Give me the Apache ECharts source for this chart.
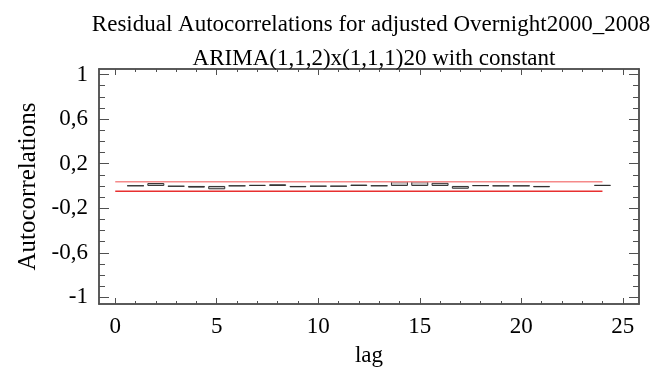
<!DOCTYPE html>
<html>
<head>
<meta charset="utf-8">
<script src="https://cdn.jsdelivr.net/npm/echarts@6/dist/echarts.min.js"></script>
<style>
  html, body { margin: 0; padding: 0; background: #fff; }
  #chart { width: 664px; height: 372px; }
</style>
</head>
<body>
<div id="chart"></div>
<script>
// residual autocorrelations by lag
const lags = [1, 2, 3, 4, 5, 6, 7, 8, 9, 10, 11, 12, 13, 14, 15, 16, 17, 18, 19, 20, 21, 22, 23, 24];
const acf = [0.003, 0.026, -0.005, -0.015, -0.03, 0.002, 0.01, 0.015, -0.012, -0.004, -0.004, 0.012,
             0.003, 0.042, 0.042, 0.028, -0.025, 0.006, 0.002, 0.002, -0.012, null, null, 0.01];
// probability limits
const limitLags = [0, 24];
const upperLimit = 0.038;
const lowerLimit = -0.048;
// ticks
const xLabels = [0, 5, 10, 15, 20, 25];
const xMinor = [0, 1, 2, 3, 4, 5, 6, 7, 8, 9, 10, 11, 12, 13, 14, 15, 16, 17, 18, 19, 20, 21, 22, 23, 24, 25];
const yLabels = [-1, -0.6, -0.2, 0.2, 0.6, 1];
const yMinor = [-1, -0.9, -0.8, -0.7, -0.6, -0.5, -0.4, -0.3, -0.2, -0.1, 0, 0.1, 0.2, 0.3, 0.4, 0.5, 0.6, 0.7, 0.8, 0.9, 1];

const font = 'Liberation Serif';
const axisColor = '#505050';

function xAxis(pos, ticks, len, labels) {
    return {
        type: 'value', position: pos, min: -0.8, max: 25.8,
        axisLine: { show: true, onZero: false, lineStyle: { color: axisColor, width: 1.5 } },
        axisTick: { show: true, inside: true, length: len, customValues: ticks, lineStyle: { color: axisColor } },
        axisLabel: labels ? { show: true, customValues: labels, margin: 11, color: '#000', fontFamily: font, fontSize: 23 } : { show: false },
        splitLine: { show: false },
        name: labels ? 'lag' : '', nameLocation: 'middle', nameGap: 40,
        nameTextStyle: { color: '#000', fontFamily: font, fontSize: 23 }
    };
}
function yAxis(pos, ticks, len, labels) {
    return {
        type: 'value', position: pos, min: -1.06, max: 1.05,
        axisLine: { show: true, onZero: false, lineStyle: { color: axisColor, width: 1.5 } },
        axisTick: { show: true, inside: true, length: len, customValues: ticks, lineStyle: { color: axisColor } },
        axisLabel: labels ? {
            show: true, customValues: labels, margin: 11, color: '#000', fontFamily: font, fontSize: 23,
            formatter: v => String(Math.round(v * 10) / 10).replace('.', ',')
        } : { show: false },
        splitLine: { show: false },
        name: labels ? 'Autocorrelations' : '', nameLocation: 'middle', nameGap: 58, nameRotate: 90,
        nameTextStyle: { color: '#000', fontFamily: font, fontSize: 25 }
    };
}

let myChart = echarts.init(document.getElementById('chart'));
myChart.setOption({
    animation: false,
    title: [
        { text: 'Residual Autocorrelations for adjusted Overnight2000_2008', left: 366, top: 8, textAlign: 'center',
          textStyle: { fontFamily: font, fontSize: 23, fontWeight: 'normal', color: '#000' } },
        { text: 'ARIMA(1,1,2)x(1,1,1)20 with constant', left: 369, top: 42, textAlign: 'center',
          textStyle: { fontFamily: font, fontSize: 23, fontWeight: 'normal', color: '#000' } }
    ],
    grid: { left: 99, right: 25, top: 69, bottom: 68 },
    xAxis: [
        xAxis('bottom', xLabels, 6, xLabels),
        xAxis('bottom', xMinor, 3, null),
        xAxis('top', xLabels, 6, null),
        xAxis('top', xMinor, 3, null)
    ],
    yAxis: [
        yAxis('left', yLabels, 10, yLabels),
        yAxis('left', yMinor, 6, null),
        yAxis('right', yLabels, 10, null),
        yAxis('right', yMinor, 6, null)
    ],
    series: [
        {
            type: 'bar', barWidth: 17,
            data: lags.map((l, i) => [l, acf[i]]),
            itemStyle: { color: '#c4c4c4', borderColor: '#303030', borderWidth: 1 }
        },
        {
            type: 'line', symbol: 'none', silent: true,
            data: limitLags.map(l => [l, upperLimit]),
            lineStyle: { color: '#f58a8a', width: 1.5 }
        },
        {
            type: 'line', symbol: 'none', silent: true,
            data: limitLags.map(l => [l, lowerLimit]),
            lineStyle: { color: '#e83030', width: 1.5 }
        }
    ]
});
</script>
</body>
</html>
